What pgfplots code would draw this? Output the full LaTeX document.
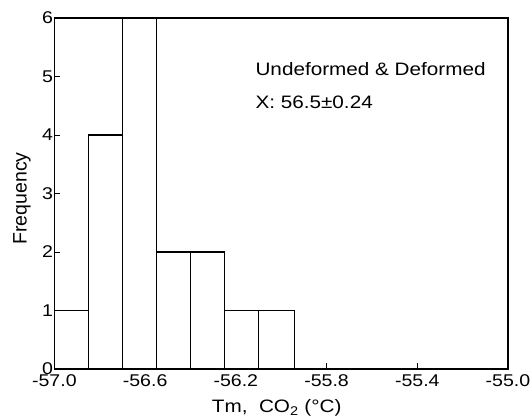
\documentclass[border=0pt]{standalone}
\usepackage{fontspec}
\setmainfont{Liberation Sans}
\usepackage{graphicx}
\usepackage{pgfplots}
\pgfplotsset{compat=1.18}
\newcommand{\sx}[1]{\scalebox{1.15}[1]{#1}}
\begin{document}
\begin{tikzpicture}
\begin{axis}[
  scale only axis,
  clip=false,
  width=453.6bp, height=351bp,
  xmin=-57.0, xmax=-55.0, ymin=0, ymax=6,
  axis line style={line width=1.3bp},
  xtick={-57.0,-56.6,-56.2,-55.8,-55.4,-55.0},
  xticklabels={\sx{-57.0},\sx{-56.6},\sx{-56.2},\sx{-55.8},\sx{-55.4},\sx{-55.0}},
  ytick={0,1,2,3,4,5,6},
  yticklabels={\sx{0},\sx{1},\sx{2},\sx{3},\sx{4},\sx{5},\sx{6}},
  xtick pos=left, ytick pos=left,
  tick align=inside,
  major tick length=6bp,
  tick style={line width=0.8bp, black},
  ticklabel style={font=\fontsize{17bp}{20bp}\selectfont},
  yticklabel style={xshift=2bp},
  xticklabel style={yshift=-2bp},
  xlabel={\sx{Tm,\ \ CO\textsubscript{2} (°C)}},
  ylabel={Frequency},
  xlabel style={font=\fontsize{18bp}{21bp}\selectfont, at={(axis description cs:0.49,-0.111)}, anchor=center},
  ylabel style={font=\fontsize{19.5bp}{22bp}\selectfont, at={(axis description cs:-0.0714,0.486)}, anchor=center},
]
\addplot[ybar interval, fill=white, draw=black, line width=1.3bp] coordinates {
  (-57.00,1) (-56.85,4) (-56.70,6) (-56.55,2) (-56.40,2) (-56.25,1) (-56.10,1) (-55.94,1)
};
\node[anchor=west, inner sep=0pt, font=\fontsize{18bp}{21bp}\selectfont] at (axis cs:-56.114,5.13) {\sx{Undeformed \& Deformed}};
\node[anchor=west, inner sep=0pt, font=\fontsize{18bp}{21bp}\selectfont] at (axis cs:-56.114,4.56) {\sx{X: 56.5±0.24}};
\end{axis}
\pgfresetboundingbox
\path[use as bounding box] (-54.4bp,-51bp) rectangle (477.6bp,369bp);
\end{tikzpicture}
\end{document}
